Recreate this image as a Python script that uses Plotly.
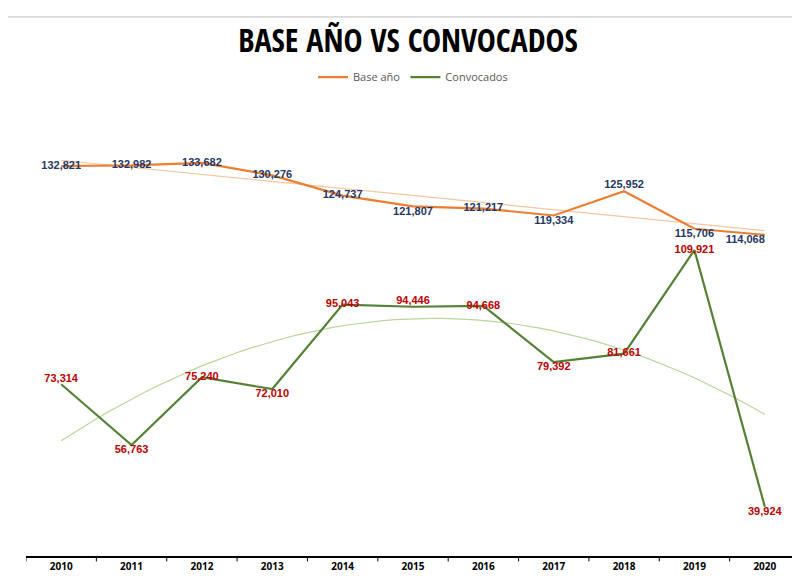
import plotly.graph_objects as go
import numpy as np

years = ["2010","2011","2012","2013","2014","2015","2016","2017","2018","2019","2020"]
base = [132821,132982,133682,130276,124737,121807,121217,119334,125952,115706,114068]
conv = [73314,56763,75240,72010,95043,94446,94668,79392,81661,109921,39924]

base_pos = ["middle center","middle center","middle center","middle center","middle center",
            "bottom center","middle center","bottom center","top center","bottom center","bottom left"]
conv_pos = ["top center","bottom center","middle center","bottom center","middle center",
            "top center","middle center","bottom center","middle center","middle center","bottom center"]

xi = np.arange(len(years))
bt = np.polyval(np.polyfit(xi, base, 1), xi)
xs = np.linspace(0, 10, 60)
ct = np.polyval(np.polyfit(xi, conv, 2), xs)

fig = go.Figure()
fig.add_trace(go.Scatter(x=xi, y=bt, mode="lines", line=dict(color="#F4C7A0", width=1.2),
                         showlegend=False, hoverinfo="skip"))
fig.add_trace(go.Scatter(x=xs, y=ct, mode="lines", line=dict(color="#B9D79A", width=1.2),
                         showlegend=False, hoverinfo="skip"))
fig.add_trace(go.Scatter(x=xi, y=base, name="Base año", mode="lines+text",
                         line=dict(color="#ED7D31", width=2.2),
                         text=[f"<b>{v:,}</b>" for v in base], textposition=base_pos,
                         textfont=dict(color="#1F3864", size=11, family="Arial")))
fig.add_trace(go.Scatter(x=xi, y=conv, name="Convocados", mode="lines+text",
                         line=dict(color="#548235", width=2.2),
                         text=[f"<b>{v:,}</b>" for v in conv], textposition=conv_pos,
                         textfont=dict(color="#C00000", size=11, family="Arial")))

fig.update_layout(
    width=800, height=581, paper_bgcolor="white", plot_bgcolor="white",
    margin=dict(l=18, r=8, t=95, b=33),
    title=dict(text="<b>BASE AÑO VS CONVOCADOS</b>", x=0.5, xanchor="center", y=0.943, yanchor="middle",
               font=dict(size=32, color="black", family="Open Sans Condensed, Roboto Condensed, Open Sans")),
    legend=dict(orientation="h", x=0.5, xanchor="center", y=1.025, yanchor="bottom",
                font=dict(size=11, color="#595959")),
    xaxis=dict(tickmode="array", tickvals=list(xi), ticktext=[f"<b>{y}</b>" for y in years],
               range=[-0.5, 10.5], showgrid=False, zeroline=False, showline=True,
               linecolor="black", linewidth=1.5, ticks="outside", ticklen=0,
               tickfont=dict(size=10, color="black")),
    yaxis=dict(range=[26500, 150000], visible=False),
    shapes=[dict(type="rect", xref="paper", yref="paper", x0=-0.025, x1=1.012, y0=-0.075, y1=1.19,
                 line=dict(color="#BFBFBF", width=1))] +
           [dict(type="line", xref="x", yref="paper", x0=i+0.5, x1=i+0.5, y0=0, y1=-0.012,
                 line=dict(color="black", width=1)) for i in range(-1, 11)],
)
fig.write_html("out.html")
